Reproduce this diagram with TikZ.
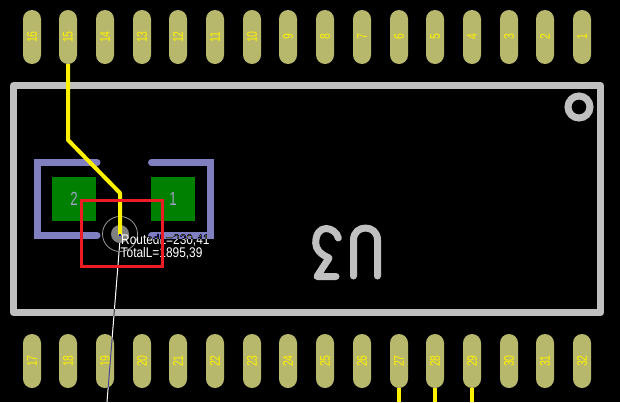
\documentclass[tikz,border=0pt]{standalone}
\usepackage{fontspec}
\setmainfont{Liberation Sans}
\newfontfamily\pcbfont[FakeStretch=0.85]{Liberation Sans}
\newfontfamily\padfont[FakeStretch=0.75]{Liberation Sans}
\newfontfamily\smdfont[FakeStretch=0.7]{Liberation Sans}
\definecolor{padcol}{HTML}{B8B86C}
\definecolor{silk}{HTML}{C0C0C0}
\definecolor{brk}{HTML}{8080C0}
\definecolor{smd}{HTML}{008000}
\definecolor{viacol}{HTML}{808080}
\definecolor{boxred}{HTML}{ED1C24}
\definecolor{smdtxt}{HTML}{A0A0C8}
\tikzset{
  thpad/.style={fill=padcol,draw=none,rounded corners=9pt,minimum width=18pt,minimum height=54pt,inner sep=0pt,text=yellow,font=\padfont\fontsize{14}{14}\selectfont},
  smdpad/.style={fill=smd,draw=none,minimum width=44pt,minimum height=44pt,inner sep=0pt,text=smdtxt,font=\smdfont\fontsize{19}{19}\selectfont},
  silkline/.style={draw=silk,line width=7pt},
  bracket/.style={draw=brk,line width=7pt,line cap=round,line join=miter},
  trace/.style={draw=yellow,line width=4pt,line join=round},
  lengthtext/.style={inner sep=0pt,anchor=base west,text=white,font=\pcbfont\fontsize{14}{14}\selectfont},
}
\begin{document}
\begin{tikzpicture}[x=1pt,y=-1pt]
\useasboundingbox (0,0) rectangle (620,402);
\fill[black] (0,0) rectangle (620,402);
% pads
\foreach \x/\n in {32/16,68/15,105/14,142/13,178/12,215/11,252/10,288/9,325/8,362/7,399/6,435/5,472/4,509/3,545/2,582/1}
  \node[thpad] (p\n) at (\x,37) {\rotatebox{90}{\n}};
\foreach \x/\n in {32/17,68/18,105/19,142/20,178/21,215/22,252/23,288/24,325/25,362/26,399/27,435/28,472/29,509/30,545/31,582/32}
  \node[thpad] (p\n) at (\x,361) {\rotatebox{90}{\n}};
% outline
\draw[silkline,line join=round] (13.5,85.5) rectangle (600.5,312.5);
\draw[draw=silk,line width=7pt] (579,107) circle (11);
% U3 (rotated)
\draw[draw=silk,line width=7pt,line cap=round,line join=round]
  (353.5,276) -- (353.5,240) .. controls (353.5,224) and (377.5,224) .. (377.5,240) -- (377.5,276);
\draw[draw=silk,line width=7pt,line cap=round,line join=round]
  (338.3,238) .. controls (337,232) and (331,228.5) .. (326,228.5)
  .. controls (320,228.5) and (315.7,234) .. (315.7,243)
  .. controls (315.7,249) and (320,254) .. (329,258)
  -- (317,276.5) -- (336,276.5);
% SMD pads
\node[smdpad] (smdB) at (74,199) {2};
\node[smdpad] (smdA) at (173,199) {1};
% left bracket
\draw[bracket] (97,162.5) -- (37.5,162.5) -- (37.5,235.5) -- (97,235.5);
% via
\node[circle,fill=viacol,draw=none,minimum size=18pt,inner sep=0pt] (via) at (120,234) {};
\draw[draw=viacol!80!white,line width=0.8pt] (via.center) circle (17.5);
% traces
\coordinate (c1) at (68,140);
\coordinate (c2) at (120,193);
\coordinate (c3) at (120,235);
\draw[trace] (p15.south) -- (c1) -- (c2) -- (c3);
\coordinate (e27) at (399,402);
\coordinate (e28) at (435,402);
\coordinate (e29) at (472,402);
\draw[trace] (p27.south) -- (e27);
\draw[trace] (p28.south) -- (e28);
\draw[trace] (p29.south) -- (e29);
\fill[blue!70!black] (119.2,234) rectangle (120.8,235.8);
% texts
\node[lengthtext] (routed) at (121,244) {RoutedL=230,41};
\node[lengthtext] (total) at (120.5,257) {TotalL=1895,39};
% items drawn in exclusive-or fashion: right bracket over the text, ratsnest over the pad
\begin{scope}[blend mode=difference]
  \draw[bracket] (151.5,162.5) -- (210.5,162.5) -- (210.5,235.5) -- (151.5,235.5);
  \coordinate (rs0) at (120,240);
  \coordinate (rs1) at (107,402);
  \draw[white,line width=1pt] (rs0) -- (rs1);
\end{scope}
% red window
\draw[draw=boxred,line width=3pt] (81,200) rectangle (162,266);
\end{tikzpicture}
\end{document}
